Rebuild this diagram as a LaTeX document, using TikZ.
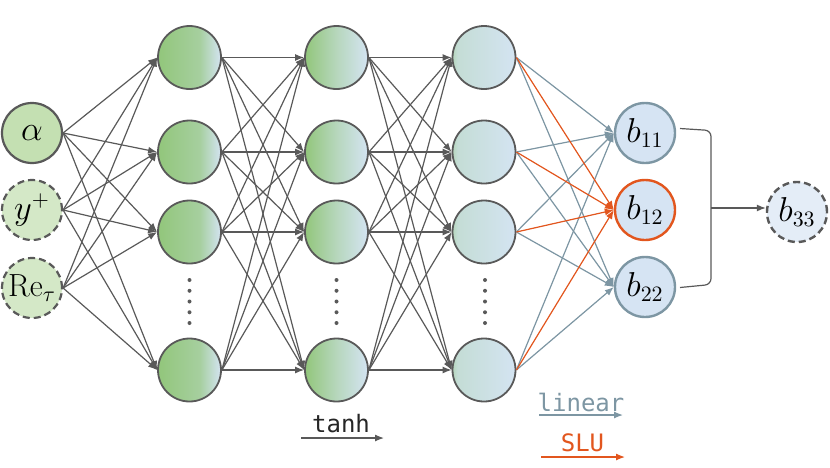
\documentclass[tikz,border=0pt]{standalone}
\usepackage{fontspec}
\setmonofont{DejaVu Sans Mono}
\usetikzlibrary{arrows.meta}
\definecolor{lineg}{RGB}{89,89,89}
\definecolor{slate}{RGB}{125,150,163}
\definecolor{orng}{RGB}{226,86,30}
\definecolor{outfill}{RGB}{214,228,243}
\definecolor{bfill}{RGB}{228,237,247}
\definecolor{infillA}{RGB}{196,224,178}
\definecolor{infillB}{RGB}{212,232,199}
\definecolor{hG}{RGB}{146,198,123}
\definecolor{hB}{RGB}{212,228,242}
\colorlet{hGa}{hG!70!hB}
\colorlet{hGb}{hG!45!hB}
\colorlet{hGc}{hG!30!hB}
\colorlet{hGd}{hG!24!hB}
\pgfdeclarehorizontalshading{hidA}{100bp}{color(0bp)=(hG); color(25bp)=(hG); color(58bp)=(hGa); color(75bp)=(hB); color(100bp)=(hB)}
\pgfdeclarehorizontalshading{hidB}{100bp}{color(0bp)=(hG); color(25bp)=(hG); color(50bp)=(hGb); color(75bp)=(hB); color(100bp)=(hB)}
\pgfdeclarehorizontalshading{hidC}{100bp}{color(0bp)=(hG); color(25bp)=(hGb); color(29bp)=(hGd); color(75bp)=(hB); color(100bp)=(hB)}
\tikzset{
  mathfont/.style={font=\fontsize{16}{19}\selectfont},
  inA/.style={circle, draw=lineg, line width=1.1pt, fill=infillA, minimum size=30pt, inner sep=0pt, mathfont},
  inB/.style={inA, fill=infillB, dash pattern=on 3.5pt off 2pt},
  hid/.style={circle, draw=lineg, line width=0.9pt, minimum size=31.5pt, inner sep=0pt},
  outn/.style={circle, draw=slate, line width=1.2pt, fill=outfill, minimum size=30pt, inner sep=0pt, mathfont},
  conn/.style={draw=lineg, line width=0.6pt, -{Latex[length=4.5pt,width=3.5pt]}},
  connS/.style={conn, draw=slate, fill=slate},
  connO/.style={conn, draw=orng, fill=orng},
  legtext/.style={font=\ttfamily\fontsize{12}{14}\selectfont, inner sep=0pt},
  vdot/.style={fill=lineg, circle, inner sep=0pt, minimum size=2pt}
}
\begin{document}
\begin{tikzpicture}[x=0.5pt,y=-0.5pt]
\useasboundingbox (0,0) rectangle (830,467);
% inputs
\node[inA] (in1) at (32,133) {$\alpha$};
\node[inB] (in2) at (32,210) {$y^{+}$};
\node[inB] (in3) at (32,288) {$\mathrm{Re}_{\tau}$};
% hidden layers
\foreach \r [count=\j] in {57.5,152,232,370} {
  \node[hid, shading=hidA] (ha\j) at (189.5,\r) {};
  \node[hid, shading=hidB] (hb\j) at (336.5,\r) {};
  \node[hid, shading=hidC] (hc\j) at (484,\r) {};
}
% vertical dots
\foreach \k in {0,...,4} {
  \node[vdot] (da\k) at (189.5,280+\k*10.75) {};
  \node[vdot] (db\k) at (336.5,280+\k*10.75) {};
  \node[vdot] (dc\k) at (485,280+\k*10.75) {};
}
% outputs
\node[outn] (b11) at (645,133) {$b_{11}$};
\node[outn, draw=orng] (b12) at (645,210) {$b_{12}$};
\node[outn] (b22) at (645,287) {$b_{22}$};
\node[outn, draw=lineg, fill=bfill, dash pattern=on 3.5pt off 2pt] (b33) at (797,212) {$b_{33}$};
% connectors
\foreach \i in {1,...,3} \foreach \j in {1,...,4} \draw[conn] (in\i.east) -- (ha\j.west);
\foreach \i in {1,...,4} \foreach \j in {1,...,4} {
  \draw[conn] (ha\i.east) -- (hb\j.west);
  \draw[conn] (hb\i.east) -- (hc\j.west);
}
\foreach \i in {1,...,4} {
  \draw[connS] (hc\i.east) -- (b11.west);
  \draw[connS] (hc\i.east) -- (b22.west);
}
\foreach \i in {1,...,4} \draw[connO] (hc\i.east) -- (b12.west);
% bracket
\coordinate (brT) at (680,128.5);
\coordinate (brTc) at (711,130.5);
\coordinate (brBc) at (711,284.5);
\coordinate (brB) at (680,287.5);
\coordinate (brM) at (711,208);
\draw[lineg, line width=0.6pt, rounded corners=3pt] (brT) -- (brTc) -- (brBc) -- (brB);
\draw[conn] (brM) -- (brM -| b33.west);
% legend
\node[legtext, text=black!85] (tanhT) at (341,424) {tanh};
\coordinate (tA) at (301,438);
\coordinate (tB) at (384,438);
\draw[conn] (tA) -- (tB);
\node[legtext, text=slate] (linT) at (581,402) {linear};
\coordinate (lA) at (539,415);
\coordinate (lB) at (623,415);
\draw[connS] (lA) -- (lB);
\node[legtext, text=orng] (sluT) at (582.5,442.5) {SLU};
\coordinate (sA) at (541,457);
\coordinate (sB) at (625,457);
\draw[connO] (sA) -- (sB);
\end{tikzpicture}
\end{document}
